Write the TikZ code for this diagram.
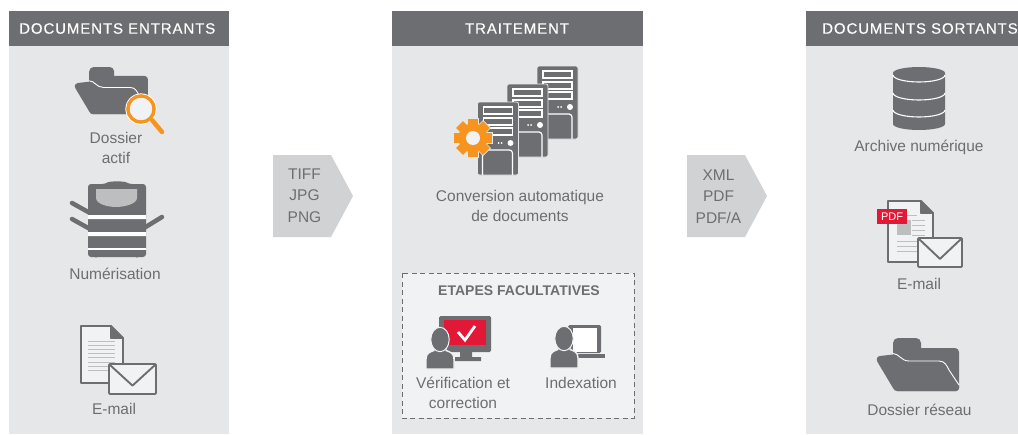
\documentclass[tikz,border=0pt]{standalone}
\usepackage{fontspec}
\setmainfont{Liberation Sans}
\definecolor{hdr}{HTML}{6D6E71}
\definecolor{pan}{HTML}{E6E7E9}
\definecolor{lite}{HTML}{F1F2F4}
\definecolor{arr}{HTML}{D1D2D4}
\definecolor{txt}{HTML}{6D6E71}
\definecolor{org}{HTML}{F7941D}
\definecolor{red1}{HTML}{E31837}
\definecolor{gl}{HTML}{BCBEC0}
\tikzset{
  panel/.style={fill=pan,draw=none},
  header/.style={text=white,font=\fontsize{15}{18}\selectfont\addfontfeature{LetterSpace=6,FakeBold=0.25},inner sep=0pt},
  lbl/.style={text=txt,font=\fontsize{15.5}{20}\selectfont,align=center,inner sep=0pt},
  arrlbl/.style={text=txt,font=\fontsize{15.5}{21.5}\selectfont,align=center,inner sep=0pt},
  wl/.style={draw=white,line width=1.2pt},
  dl/.style={draw=hdr,line width=1.9pt,line join=round},
  gline/.style={draw=gl,line width=1pt}
}
\newcommand{\folderic}[3]{\begin{scope}[shift={(#1,#2)},scale=#3]
 \fill[hdr] (16,5) arc[start angle=180,end angle=270,radius=5] -- (39,0) arc[start angle=270,end angle=360,radius=5] -- (44,10) -- (78,10) arc[start angle=270,end angle=360,radius=4] -- (82,50) arc[start angle=0,end angle=90,radius=3] -- (20,53) -- (16,20) -- cycle;
 \fill[hdr] (3,18) -- (16,16.5) .. controls (22,16) and (24,23) .. (32,23) -- (62,23) .. controls (68,23) and (70,28) .. (72,32) -- (82,48) -- (82,50) arc[start angle=0,end angle=90,radius=3] -- (20,53) .. controls (18,53) and (17,52) .. (16,50) -- (0.5,24) .. controls (-1,21) and (0,18.3) .. (3,18) -- cycle;
 \draw[white,line width=.9pt] (16,15.5) .. controls (22,15.5) and (24,23) .. (32,23) -- (62,23) .. controls (68,23) and (70,28) .. (72,32) -- (82,47);
\end{scope}}
\newcommand{\envic}[4]{% x y w h
 \filldraw[fill=lite,dl,rounded corners=1pt] (#1,#2) rectangle (#1+#3,#2+#4);
 \draw[dl] (#1+1,#2+1) -- (#1+#3/2,#2+#4*0.72) -- (#1+#3-1,#2+1);}
\newcommand{\docic}[4]{% x y w h
 \filldraw[fill=lite,dl] (#1,#2) -- (#1+#3-12,#2) -- (#1+#3-12,#2+12) -- (#1+#3,#2+12) -- (#1+#3,#2+#4) -- (#1,#2+#4) -- cycle;
 \filldraw[fill=hdr,dl] (#1+#3-12,#2) -- (#1+#3,#2+12) -- (#1+#3-12,#2+12) -- cycle;}
\newcommand{\serveric}[2]{\begin{scope}[shift={(#1,#2)}]
 \filldraw[fill=hdr,draw=pan,line width=.8pt,rounded corners=2pt] (0,0) rectangle (41,73);
 \foreach \yy in {5,16,26}{\draw[wl] (6,\yy) rectangle (35,\yy+7);}
 \fill[white] (21,41) circle (1) (24,41) circle (1) (33,41) circle (3);
 \draw[wl,rounded corners=3pt] (5,73) -- (5,48) -- (35,48) -- (35,73);
\end{scope}}
\newcommand{\personic}[2]{\begin{scope}[shift={(#1,#2)}]
 \filldraw[fill=hdr,draw=lite,line width=1.4pt] (0,41) -- (0,31) .. controls (0,25) and (4,24) .. (8,22.5) -- (8,19) -- (20,19) -- (20,22.5) .. controls (24,24) and (28,25) .. (28,31) -- (28,41) -- cycle;
 \filldraw[fill=hdr,draw=lite,line width=1pt] (14,11.5) ellipse[x radius=9.2,y radius=12.2];
\end{scope}}
\begin{document}
\begin{tikzpicture}[x=1pt,y=-1pt]
\useasboundingbox (0,0) rectangle (1018,434);
\fill[white] (0,0) rectangle (1018,434);
% panels
\fill[panel] (9,11) rectangle (229,434);
\fill[panel] (392,11) rectangle (643,434);
\fill[panel] (806,11) rectangle (1018,434);
\fill[hdr] (9,11) rectangle (229,46);
\fill[hdr] (392,11) rectangle (643,46);
\fill[hdr] (806,11) rectangle (1018,46);
\begin{scope}
\clip (0,0) rectangle (1018,434);
\node[header,anchor=west] (h1) at (19,28.5) {DOCUMENTS ENTRANTS};
\node[header] (h2) at (517,28.5) {TRAITEMENT};
\node[header,anchor=west] (h3) at (822,28.5) {DOCUMENTS SORTANTS};
\end{scope}
% arrows
\fill[arr] (273,155) -- (331,155) -- (353,196) -- (331,237) -- (273,237) -- cycle;
\fill[arr] (687,155) -- (745,155) -- (767,196) -- (745,237) -- (687,237) -- cycle;
\node[arrlbl] (a1) at (304.5,195.5) {TIFF\\JPG\\PNG};
\node[arrlbl] (a2) at (718.5,196.5) {XML\\PDF\\PDF/A};
% left folder
\folderic{75}{67}{0.89}
\fill[lite,draw=white,line width=.8pt] (141,109) circle (15.2);
\draw[org,line width=4.5pt,line cap=round] (152,120) -- (162,132);
\draw[org,line width=3.6pt] (141,109) circle (13);
\fill[lite] (141,109) circle (11.2);
\node[lbl] (l1) at (116,148) {Dossier\\actif};
% scanner
\draw[hdr,line width=4.5pt,line cap=round] (72,203) -- (90,213) (72,219) -- (90,229) (162,217) -- (144,228);
\fill[hdr,rounded corners=3pt] (88,257) -- (88,184) -- (105,184) .. controls (110,181) and (124,181) .. (129,184) -- (146,184) -- (146,257) -- cycle;
\fill[gl] (96,189) -- (137,189) -- (137,198) .. controls (137,204) and (124,207) .. (116,207) .. controls (108,207) and (96,204) .. (96,198) -- cycle;
\fill[white] (88,215) rectangle (146,219) (88,232) rectangle (146,236) (88,248) rectangle (146,250);
\fill[hdr] (96,254) circle (3.5) (137,254) circle (3.5);
\fill[hdr] (88,250) rectangle (146,254);
\node[lbl] (l2) at (115,273.5) {Numérisation};
% left email
\docic{81}{326}{42}{57}
\foreach \yy in {341,345.2,...,371}{\draw[gline] (88,\yy) -- (115,\yy);}
\envic{109}{364}{47}{30}
\node[lbl] (l3) at (114,409) {E-mail};
% servers
\serveric{537}{66}
\serveric{507}{84}
\serveric{477.5}{102}
% gear
\foreach \a in {0,45,...,315}{\filldraw[fill=org,draw=pan,line width=1.6pt,rotate around={\a:(473,138)}] (468.2,119) rectangle (477.8,130);}
\filldraw[fill=org,draw=pan,line width=1.6pt] (473,138) circle (14);
\foreach \a in {0,45,...,315}{\fill[org,rotate around={\a:(473,138)}] (468.2,119) rectangle (477.8,130);}
\fill[org] (473,138) circle (14.5);
\fill[lite] (473,138) circle (7);
\node[lbl] (l4) at (520,205.5) {Conversion automatique\\de documents};
% optional box
\filldraw[fill=lite,draw=hdr,line width=.8pt,dash pattern=on 5pt off 3.5pt] (402,273) rectangle (634,418);
\node[text=txt,font=\fontsize{14}{16}\selectfont\bfseries,inner sep=0pt] (t1) at (519,291) {ETAPES FACULTATIVES};
% monitor
\fill[hdr,rounded corners=1.5pt] (439,316) rectangle (491,352);
\fill[red1] (444,320) rectangle (486,345);
\fill[hdr] (460,352) rectangle (472,357) (455,357) rectangle (481,361);
\draw[white,line width=2.8pt] (458,332) -- (465,340) -- (475,326);
\personic{426}{328}
\node[lbl] (l5) at (463,392.5) {Vérification et\\correction};
% laptop
\fill[hdr,rounded corners=1.5pt] (568,325) rectangle (601,353);
\fill[white] (573,328) rectangle (597,352);
\fill[hdr] (578,354) rectangle (605,358);
\personic{550}{327}
\node[lbl] (l6) at (581,383) {Indexation};
% database
\fill[hdr] (893,73) arc[start angle=180,end angle=360,x radius=26,y radius=6] -- (945,124) arc[start angle=0,end angle=180,x radius=26,y radius=6] -- cycle;
\foreach \yy in {75,93,110}{\draw[white,line width=1.1pt] (893,\yy) arc[start angle=180,end angle=0,x radius=26,y radius=7];}
\node[lbl] (l7) at (919,147) {Archive numérique};
% pdf doc
\docic{888}{201}{45}{61}
\fill[gl] (897,220) rectangle (911,235);
\foreach \yy in {220,225,230,235}{\draw[gline] (912,\yy) -- (925,\yy);}
\draw[gline] (907,215) -- (917,215);
\foreach \yy in {241,246,251}{\draw[gline] (897,\yy) -- (925,\yy);}
\envic{918}{238}{44}{29}
\node[fill=red1,text=white,font=\fontsize{11}{12}\selectfont,minimum width=30pt,minimum height=15pt,inner sep=0pt] (b1) at (892,216.5) {PDF};
\node[lbl] (l8) at (919,284) {E-mail};
% network folder
\folderic{877}{338}{1}
\node[lbl] (l9) at (919.5,410) {Dossier réseau};
\end{tikzpicture}
\end{document}
